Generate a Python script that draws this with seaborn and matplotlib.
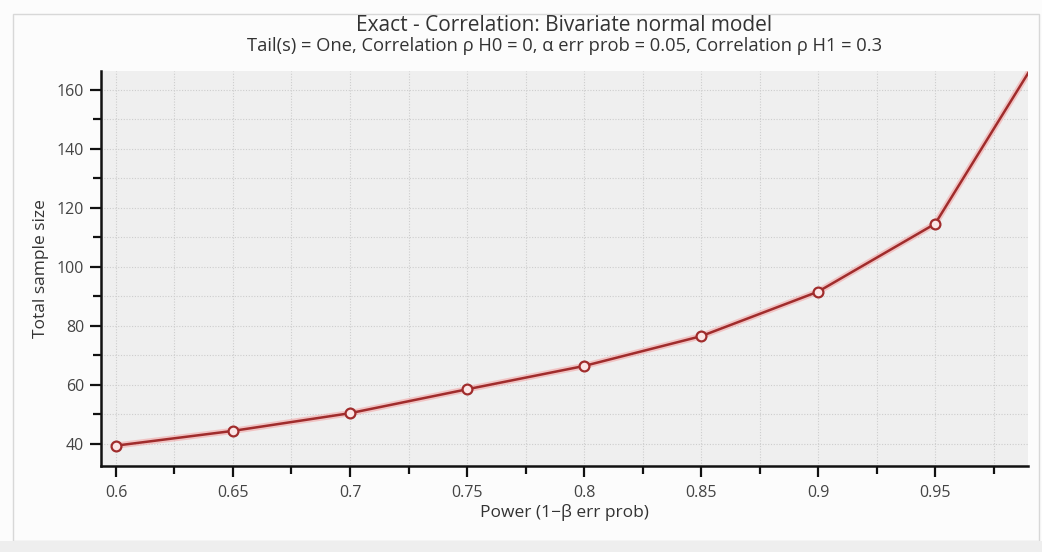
import matplotlib
matplotlib.use("Agg")
import matplotlib.pyplot as plt
import seaborn as sns
import pandas as pd
from matplotlib.ticker import MultipleLocator
from matplotlib.patches import Rectangle

power = [0.60, 0.65, 0.70, 0.75, 0.80, 0.85, 0.90, 0.95, 0.99]
sample_size = [39.4, 44.4, 50.4, 58.5, 66.4, 76.5, 91.6, 114.6, 166.0]
marked = [True, True, True, True, True, True, True, True, False]
tick_labels = ["0.6", "0.65", "0.7", "0.75", "0.8", "0.85", "0.9", "0.95"]

title = "Exact - Correlation: Bivariate normal model"
subtitle = "Tail(s) = One, Correlation ρ H0 = 0, α err prob = 0.05, Correlation ρ H1 = 0.3"
xlabel = "Power (1−β err prob)"
ylabel = "Total sample size"

df = pd.DataFrame({"power": power, "n": sample_size, "marked": marked})

sns.set_theme(style="white")
plt.rcParams['font.family'] = ['Open Sans', 'DejaVu Sans']

fig = plt.figure(figsize=(10.42, 5.52), dpi=100)
fig.patch.set_facecolor("#fcfcfc")
ax = fig.add_axes([0.0969, 0.1558, 0.9866 - 0.0969, 0.8714 - 0.1558])
ax.set_facecolor("#efefef")

# outer frame and bottom strip
fig.add_artist(Rectangle((0.012, 0.02), 0.985, 0.955, transform=fig.transFigure,
                         fill=False, edgecolor="#d8d8d8", linewidth=1.0))
fig.add_artist(Rectangle((0.0, 0.0), 1.0, 0.02, transform=fig.transFigure,
                         facecolor="#eeeeee", edgecolor="none"))

# halo
sns.lineplot(data=df, x="power", y="n", ax=ax, color="#f2a6a6", linewidth=4.5,
             alpha=0.6, zorder=3)
sns.lineplot(data=df, x="power", y="n", ax=ax, color="#a02c2c", linewidth=1.8, zorder=4)
mk = df[df["marked"]]
sns.scatterplot(data=mk, x="power", y="n", ax=ax, s=50, marker="o",
                facecolor="#fbe6e6", edgecolor="#a02c2c", linewidth=1.6, zorder=5)

ax.set_xlim(0.5936, 0.9897)
ax.set_ylim(32.5, 166.4)
ax.xaxis.set_minor_locator(MultipleLocator(0.025))
ax.yaxis.set_major_locator(MultipleLocator(20))
ax.yaxis.set_minor_locator(MultipleLocator(10))
ax.set_xticks(power[:-1])
ax.set_xticklabels(tick_labels)

ax.grid(True, which="both", color="#cdcdcd", linestyle=(0, (1, 1.5)), linewidth=0.8)
ax.set_axisbelow(True)

for s in ["top", "right"]:
    ax.spines[s].set_visible(False)
for s in ["left", "bottom"]:
    ax.spines[s].set_color("#111111")
    ax.spines[s].set_linewidth(1.8)

ax.tick_params(axis="both", which="major", direction="out", length=8, width=1.6,
               color="#111111", labelsize=11.5, labelcolor="#444444", left=True, bottom=True)
ax.tick_params(axis="both", which="minor", direction="out", length=6, width=1.6,
               color="#111111", left=True, bottom=True)
ax.tick_params(axis="x", pad=6)
ax.tick_params(axis="y", pad=4)

ax.set_xlabel(xlabel, fontsize=12.5, color="#333333", labelpad=2)
ax.set_ylabel(ylabel, fontsize=12.5, color="#333333", labelpad=6)

fig.text(0.5417, 0.953, title, ha="center", va="center", fontsize=15, color="#333333")
fig.text(0.5417, 0.916, subtitle, ha="center", va="center", fontsize=13.2, color="#333333")

fig.savefig("out.png", dpi=100, facecolor=fig.get_facecolor())
